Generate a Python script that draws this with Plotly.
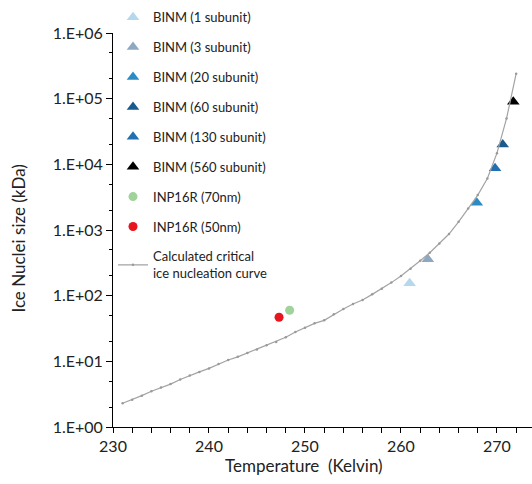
import plotly.graph_objects as go

# Calculated critical ice nucleation curve
curve_T = [231, 232, 233, 234, 235, 236, 237, 238, 239, 240, 241, 242, 243, 244, 245, 246,
           247, 248, 249, 250, 251, 252, 253, 254, 255, 256, 257, 258, 259, 260, 261, 262,
           263, 264, 265, 266, 267, 268, 269, 270, 271, 272]
curve_kDa = [2.3, 2.6, 3.0, 3.5, 4.0, 4.5, 5.3, 6.1, 6.9, 7.8, 9.1, 10.5, 11.7, 13.4, 15.2, 17.5,
             19.7, 23.2, 27.9, 32.5, 37.9, 42.1, 51.9, 62.5, 74.5, 85.7, 104.7, 127, 158, 199,
             257, 340, 450, 625, 868, 1334, 2134, 3400, 6100, 14800, 50000, 240000]

# BINM measurements
binm_names = ["BINM (1 subunit)", "BINM (3 subunit)", "BINM (20 subunit)",
              "BINM (60 subunit)", "BINM (130 subunit)", "BINM (560 subunit)"]
binm_T = [260.9, 262.8, 267.9, 270.6, 269.8, 271.7]
binm_kDa = [155, 360, 2600, 20000, 8700, 90000]
binm_colors = ["#b5d8ec", "#8ea8c2", "#2b8cc4", "#1b5a8c", "#2270b2", "#000000"]

# INP16R measurements
inp_names = ["INP16R (70nm)", "INP16R (50nm)"]
inp_T = [248.4, 247.3]
inp_kDa = [60, 47]
inp_colors = ["#9fd39a", "#e8141e"]

ytick_vals = [1, 10, 100, 1000, 10000, 100000, 1000000]
ytick_text = ["1.E+00", "1.E+01", "1.E+02", "1.E+03", "1.E+04", "1.E+05", "1.E+06"]

FONT = "Lato, 'Open Sans', sans-serif"

fig = go.Figure()
for i, name in enumerate(binm_names):
    fig.add_trace(go.Scatter(
        x=[binm_T[i]], y=[binm_kDa[i]], mode="markers", name=name,
        legendgroup=f"g{i}",
        marker=dict(symbol="triangle-up", size=11, color=binm_colors[i]),
    ))
for i, name in enumerate(inp_names):
    fig.add_trace(go.Scatter(
        x=[inp_T[i]], y=[inp_kDa[i]], mode="markers", name=name,
        legendgroup=f"h{i}",
        marker=dict(symbol="circle", size=9, color=inp_colors[i]),
    ))
fig.add_trace(go.Scatter(
    x=curve_T, y=curve_kDa, mode="lines+markers",
    name="Calculated critical<br>ice nucleation curve",
    legendgroup="curve",
    line=dict(color="#a3a3a3", width=1.2),
    marker=dict(size=2.5, color="#9a9a9a"),
))

fig.update_layout(
    width=532, height=484,
    margin=dict(l=113, r=0, t=33, b=57),
    paper_bgcolor="white", plot_bgcolor="white",
    font=dict(family=FONT, size=16, color="#222222"),
    showlegend=True,
    legend=dict(
        x=0.0, y=1.078, xanchor="left", yanchor="top",
        font=dict(family=FONT, size=13, color="#222222"),
        bgcolor="rgba(0,0,0,0)", tracegroupgap=10,
        itemwidth=30, maxheight=480,
    ),
    xaxis=dict(
        range=[230, 273.65], tickvals=[230, 240, 250, 260, 270],
        showline=True, linecolor="black", linewidth=1,
        ticks="outside", ticklen=5, tickcolor="black",
        minor=dict(dtick=2, ticks="outside", ticklen=5, tickcolor="black", showgrid=False),
        showgrid=False, zeroline=False,
        tickfont=dict(family=FONT, size=16, color="#222222"),
    ),
    yaxis=dict(
        type="log", range=[0, 6],
        tickvals=ytick_vals, ticktext=ytick_text,
        showline=True, linecolor="black", linewidth=1,
        ticks="outside", ticklen=6, tickcolor="black",
        minor=dict(ticks="outside", ticklen=3, tickcolor="black", showgrid=False),
        showgrid=False, zeroline=False,
        tickfont=dict(family=FONT, size=16, color="#222222"),
    ),
    annotations=[
        dict(text="Temperature&nbsp; (Kelvin)", xref="paper", yref="paper",
             x=0.456, y=-0.097, xanchor="center", yanchor="middle", showarrow=False,
             font=dict(family=FONT, size=17, color="#222222")),
        dict(text="Ice Nuclei size (kDa)", xref="paper", yref="paper",
             x=-0.225, y=0.48, xanchor="center", yanchor="middle", showarrow=False,
             textangle=-90, font=dict(family=FONT, size=17, color="#222222")),
    ],
)

fig.write_html("out.html")
